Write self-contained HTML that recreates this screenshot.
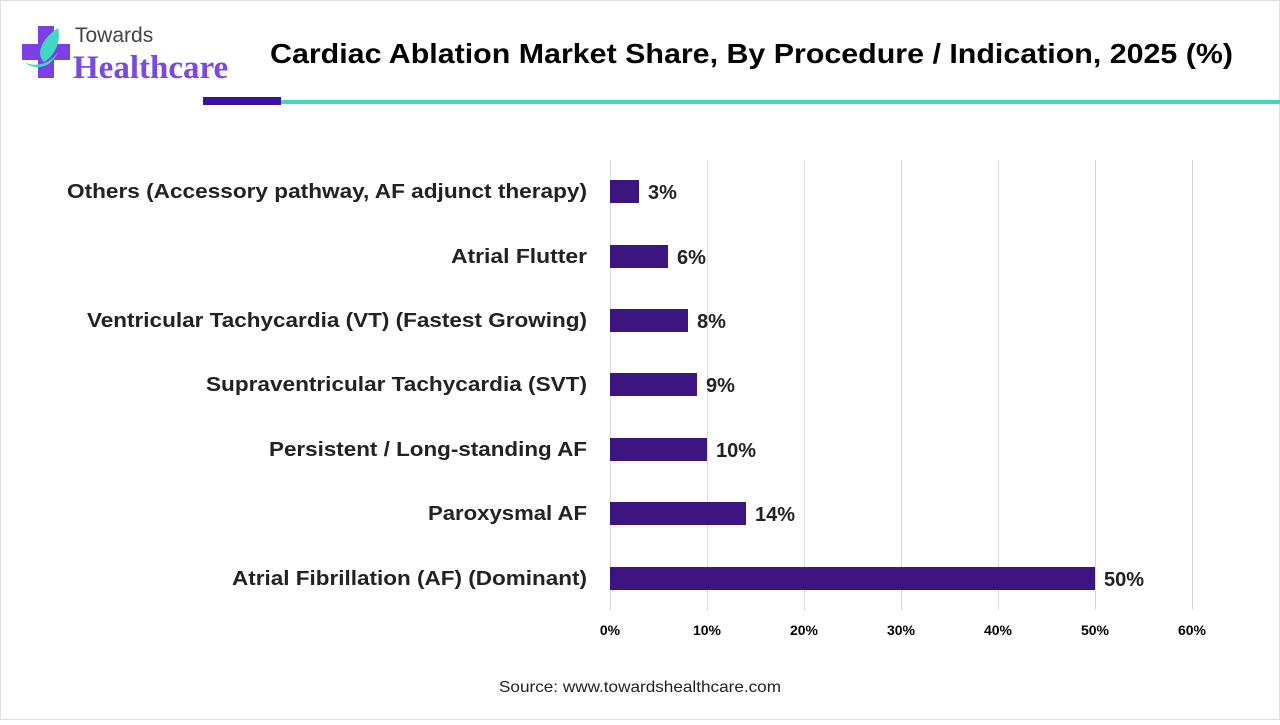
<!DOCTYPE html>
<html><head><meta charset="utf-8"><style>
body{margin:0;width:1280px;height:720px;background:#fff;overflow:hidden;font-family:"Liberation Sans",sans-serif;}
</style></head><body>
<svg width="1280" height="720" xmlns="http://www.w3.org/2000/svg" font-family="Liberation Sans, sans-serif">
<rect x="0.5" y="0.5" width="1279" height="719" fill="#fff" stroke="#ddd"/>
<rect x="22" y="44" width="48" height="16" fill="#7b3fe4"/>
<rect x="38" y="26" width="16" height="52" fill="#7b3fe4"/>
<path d="M58 28 C40 40,36 55,44 62 C52 58,62 44,58 28Z" fill="#3fd8c0"/>
<path d="M24 62 C36 68,50 64,58 52 C50 70,34 70,24 62Z" fill="#3fd8c0"/>
<text x="75" y="42" font-size="21" fill="#444">Towards</text>
<text x="73" y="78" font-size="33" font-weight="bold" fill="#7b48e0" font-family="Liberation Serif, serif">Healthcare</text>
<text x="270" y="63" font-size="28" font-weight="bold" fill="#000" textLength="963" lengthAdjust="spacingAndGlyphs">Cardiac Ablation Market Share, By Procedure / Indication, 2025 (%)</text>
<rect x="203" y="97" width="78" height="8" fill="#3a14a0"/>
<rect x="281" y="100" width="999" height="4" fill="#3fd8b8"/>
<g stroke="#d9d9d9" stroke-width="1">
<line x1="610.5" y1="160" x2="610.5" y2="610"/>
<line x1="707.5" y1="160" x2="707.5" y2="610"/>
<line x1="804.5" y1="160" x2="804.5" y2="610"/>
<line x1="901.5" y1="160" x2="901.5" y2="610"/>
<line x1="998.5" y1="160" x2="998.5" y2="610"/>
<line x1="1095.5" y1="160" x2="1095.5" y2="610"/>
<line x1="1192.5" y1="160" x2="1192.5" y2="610"/>
</g>
<g font-size="14" font-weight="bold" fill="#000" text-anchor="middle">
<text x="610" y="635">0%</text><text x="707" y="635">10%</text><text x="804" y="635">20%</text><text x="901" y="635">30%</text><text x="998" y="635">40%</text><text x="1095" y="635">50%</text><text x="1192" y="635">60%</text>
</g>
<g fill="#3d1580">
<rect x="610" y="180" width="29" height="23"/>
<rect x="610" y="245" width="58" height="23"/>
<rect x="610" y="309" width="78" height="23"/>
<rect x="610" y="373" width="87" height="23"/>
<rect x="610" y="438" width="97" height="23"/>
<rect x="610" y="502" width="136" height="23"/>
<rect x="610" y="567" width="485" height="23"/>
</g>
<g font-size="20" font-weight="bold" fill="#222">
<text x="648" y="199">3%</text><text x="677" y="264">6%</text><text x="697" y="328">8%</text><text x="706" y="392">9%</text><text x="716" y="457">10%</text><text x="755" y="521">14%</text><text x="1104" y="586">50%</text>
</g>
<g font-size="20" font-weight="bold" fill="#222" lengthAdjust="spacingAndGlyphs">
<text x="67" y="198" textLength="520" lengthAdjust="spacingAndGlyphs">Others (Accessory pathway, AF adjunct therapy)</text>
<text x="451" y="263" textLength="136" lengthAdjust="spacingAndGlyphs">Atrial Flutter</text>
<text x="87" y="327" textLength="500" lengthAdjust="spacingAndGlyphs">Ventricular Tachycardia (VT) (Fastest Growing)</text>
<text x="206" y="391" textLength="381" lengthAdjust="spacingAndGlyphs">Supraventricular Tachycardia (SVT)</text>
<text x="269" y="456" textLength="318" lengthAdjust="spacingAndGlyphs">Persistent / Long-standing AF</text>
<text x="428" y="520" textLength="159" lengthAdjust="spacingAndGlyphs">Paroxysmal AF</text>
<text x="232" y="585" textLength="355" lengthAdjust="spacingAndGlyphs">Atrial Fibrillation (AF) (Dominant)</text>
</g>
<text x="499" y="692" font-size="16" fill="#222" textLength="282" lengthAdjust="spacingAndGlyphs">Source: www.towardshealthcare.com</text>
</svg>
</body></html>
